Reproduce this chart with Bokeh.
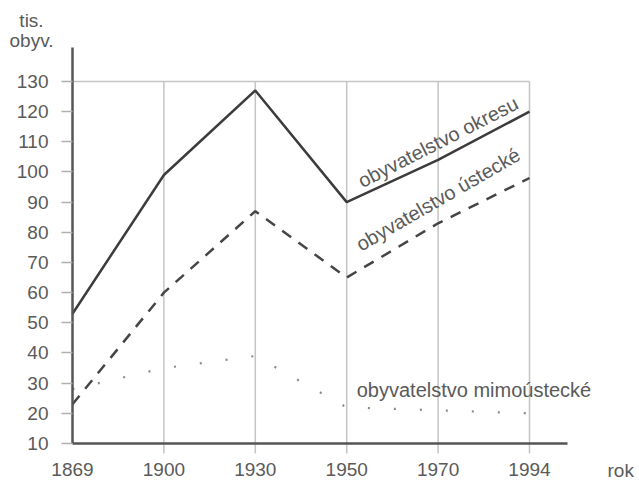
import numpy as np
from bokeh.plotting import figure
from bokeh.models import Range1d, FixedTicker, ColumnDataSource
from bokeh.core.properties import value
from bokeh.embed import file_html
from bokeh.resources import INLINE

# ---- data ----
years = ["1869", "1900", "1930", "1950", "1970", "1994"]
okres = [53, 99, 127, 90, 104, 120]          # obyvatelstvo okresu
ustecke = [23, 60, 87, 65, 83, 98]          # obyvatelstvo ústecké
mimo = [28, 35, 39, 22, 21, 20]             # obyvatelstvo mimoústecké
y_ticks = [10, 20, 30, 40, 50, 60, 70, 80, 90, 100, 110, 120, 130]

idx = list(range(len(years)))
FONT = "Liberation Sans"
TXT = "#5a5a5a"

# ---- layout geometry (pixels) -> data ranges ----
W, H = 639, 484
X0_PX, DX_PX = 72, 91.4        # pixel of first year, pixels per year step
Y0_PX, DY_PX = 443, 3.017      # pixel of lowest tick, pixels per unit
def px_x(px): return (px - X0_PX) / DX_PX
def px_y(py): return y_ticks[0] + (Y0_PX - py) / DY_PX

src = ColumnDataSource(dict(x=idx, okres=okres, ustecke=ustecke, mimo=mimo))

p = figure(width=W, height=H, title=None,
           x_range=Range1d(px_x(0), px_x(W)), y_range=Range1d(px_y(H), px_y(0)),
           output_backend="svg", toolbar_location=None,
           min_border_left=0, min_border_right=0, min_border_top=0, min_border_bottom=0)
p.outline_line_color = None
p.xgrid.visible = False
p.ygrid.visible = False

x_end = px_x(567)
y_top = px_y(47)

# grid-like frame lines: verticals at each year and horizontal at top tick
p.segment(x0=idx[1:], y0=[px_y(Y0_PX + 10)] * 5, x1=idx[1:], y1=[y_ticks[-1]] * 5,
          line_color="#c4c4c4", line_width=1.5)
p.segment(x0=[idx[0]], y0=[y_ticks[-1]], x1=[idx[-1]], y1=[y_ticks[-1]],
          line_color="#c4c4c4", line_width=1.5)

# series
p.line("x", "mimo", source=src, line_color="#8a8a8a", line_width=2.2, line_dash="2 24")
p.line("x", "ustecke", source=src, line_color="#454545", line_width=2.5, line_dash="11 9")
p.line("x", "okres", source=src, line_color="#3c3c3c", line_width=2.5)

# axes (fixed in place inside the full-canvas frame)
xa = p.xaxis[0]
xa.fixed_location = y_ticks[0]
xa.bounds = (idx[0], x_end)
xa.ticker = FixedTicker(ticks=idx)
xa.major_label_overrides = {i: y for i, y in zip(idx, years)}
xa.axis_line_color = "#555555"
xa.axis_line_width = 2.5
xa.major_tick_line_color = None
xa.minor_tick_line_color = None
xa.major_label_standoff = 13
xa.major_label_text_font = FONT
xa.major_label_text_font_size = "19px"
xa.major_label_text_color = TXT

ya = p.yaxis[0]
ya.fixed_location = idx[0]
ya.bounds = (y_ticks[0], y_top)
ya.ticker = FixedTicker(ticks=y_ticks)
ya.axis_line_color = "#555555"
ya.axis_line_width = 2.5
ya.major_tick_out = 11
ya.major_tick_in = 0
ya.major_tick_line_color = "#b0b0b0"
ya.major_tick_line_width = 1.5
ya.minor_tick_line_color = None
ya.major_label_standoff = 13
ya.major_label_text_font = FONT
ya.major_label_text_font_size = "19px"
ya.major_label_text_color = TXT

common = dict(text_font=value(FONT), text_color=TXT)

# line labels
p.text(x=[idx[4]], y=[okres[4]], text=["obyvatelstvo okresu"], angle=np.deg2rad(27),
       y_offset=-18, text_align="center", text_baseline="middle",
       text_font_size="20px", **common)
p.text(x=[idx[4]], y=[ustecke[4]], text=["obyvatelstvo ústecké"], angle=np.deg2rad(30),
       y_offset=-24, text_align="center", text_baseline="middle",
       text_font_size="20px", **common)
p.text(x=[idx[3]], y=[mimo[3]], text=["obyvatelstvo mimoústecké"],
       x_offset=10, y_offset=-17, text_align="left", text_baseline="middle",
       text_font_size="20px", **common)

# unit labels
p.text(x=[px_x(31), px_x(31)], y=[px_y(20), px_y(40)], text=["tis.", "obyv."],
       text_align="center", text_baseline="middle", text_font_size="19px", **common)
p.text(x=[px_x(607)], y=[px_y(470)], text=["rok"],
       text_align="left", text_baseline="middle", text_font_size="19px", **common)

open("out.html", "w").write(file_html(p, INLINE))
